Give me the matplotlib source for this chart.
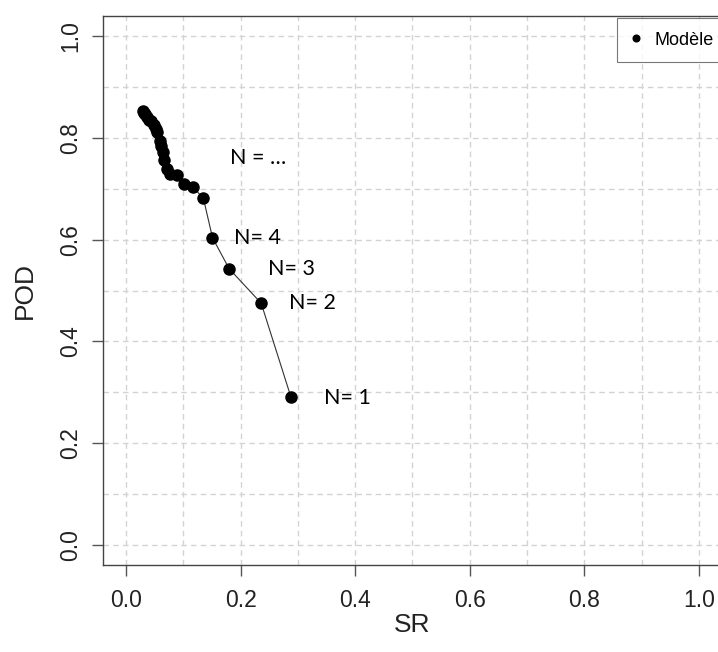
import matplotlib.pyplot as plt

# Data (ordered N = 1, 2, 3, ...)
sr = [0.288, 0.236, 0.180, 0.151, 0.135, 0.117, 0.102, 0.089, 0.077, 0.072,
      0.067, 0.064, 0.061, 0.059, 0.055, 0.052, 0.049, 0.043, 0.040, 0.037,
      0.033, 0.031, 0.030]
pod = [0.290, 0.475, 0.543, 0.604, 0.682, 0.703, 0.709, 0.728, 0.730, 0.740,
       0.757, 0.772, 0.785, 0.795, 0.812, 0.818, 0.825, 0.833, 0.836, 0.841,
       0.847, 0.850, 0.853]

labels = ["N= 1", "N= 2", "N= 3", "N= 4", "N = \u2026"]
label_x = [0.345, 0.284, 0.247, 0.188, 0.182]
label_y = [0.289, 0.475, 0.543, 0.604, 0.760]

ticks = [0.0, 0.2, 0.4, 0.6, 0.8, 1.0]
grid_vals = [i / 10 for i in range(11)]

plt.rcParams['font.family'] = ['Liberation Sans', 'DejaVu Sans']

fig = plt.figure(figsize=(7.18, 6.52), dpi=100)
ax = fig.add_axes([0.1435, 0.1334, 0.862, 0.842])

for v in grid_vals:
    ax.axvline(v, color='#d3d3d3', lw=1, ls=(0, (4, 3)), zorder=0)
    ax.axhline(v, color='#d3d3d3', lw=1, ls=(0, (4, 3)), zorder=0)

ax.plot(sr, pod, color='#333333', lw=0.8, zorder=2)
ax.plot(sr, pod, 'o', color='black', ms=8, zorder=3, label='Modèle')

for t, x, y in zip(labels, label_x, label_y):
    ax.text(x, y, t, fontsize=15.5, family=['Lato', 'DejaVu Sans'],
            va='center', ha='left')

ax.set_xlim(-0.04, 1.04)
ax.set_ylim(-0.04, 1.04)
ax.set_xticks(ticks)
ax.set_yticks(ticks)
ax.set_xticklabels([f"{t:.1f}" for t in ticks], fontsize=16.5, color='#222222')
ax.set_yticklabels([f"{t:.1f}" for t in ticks], fontsize=16.5, color='#222222',
                   rotation=90, va='center')
ax.tick_params(direction='out', length=8, width=1, color='#555555')
ax.tick_params(axis='x', pad=9)
ax.tick_params(axis='y', pad=7)
ax.set_xlabel("SR", fontsize=19, color='#222222', labelpad=1)
ax.set_ylabel("POD", fontsize=19, color='#222222', labelpad=16)
for s in ax.spines.values():
    s.set_color('#444444')
    s.set_linewidth(1)

leg = fig.legend(handles=[ax.lines[-1]], loc='upper left',
                 bbox_to_anchor=(617 / 718, 1 - 18 / 652),
                 fontsize=13, markerscale=0.6, fancybox=False,
                 frameon=True, borderpad=0.75, handlelength=0.6,
                 handletextpad=0.7, borderaxespad=0)
leg.get_frame().set_edgecolor('#555555')
leg.get_frame().set_linewidth(0.8)

fig.savefig("out.png", dpi=100)
